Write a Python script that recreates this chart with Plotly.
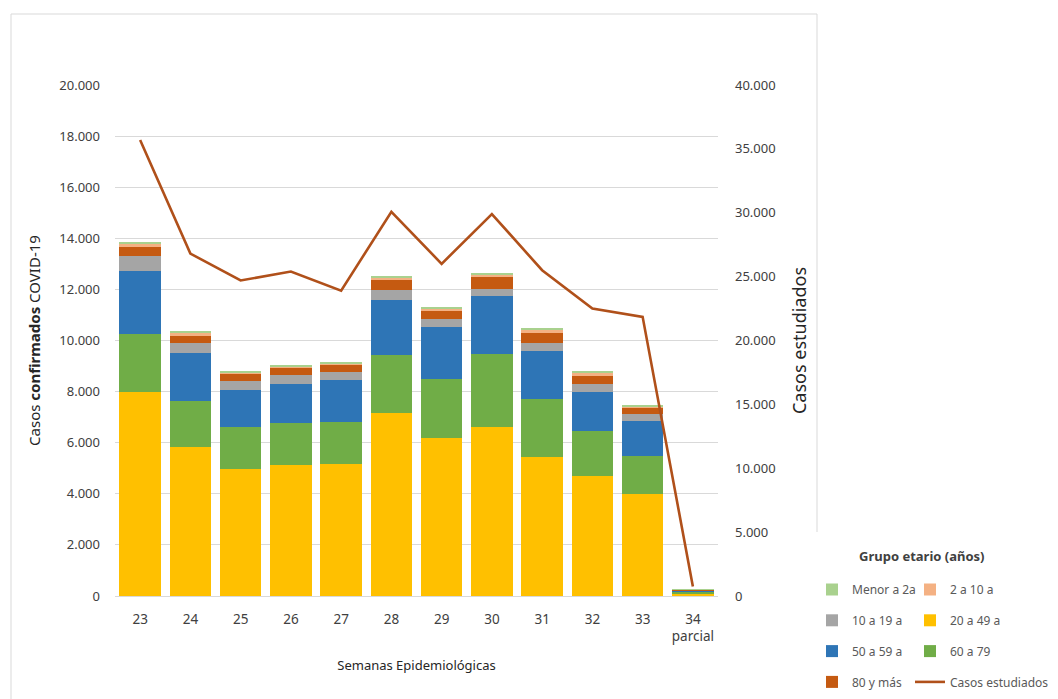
import plotly.graph_objects as go

# ---------------- data ----------------
semanas = ["23", "24", "25", "26", "27", "28", "29", "30", "31", "32", "33", "34"]
etiquetas = ["23", "24", "25", "26", "27", "28", "29", "30", "31", "32", "33", "34<br>parcial"]

g20_49 = [7980, 5820, 4990, 5120, 5150, 7180, 6200, 6600, 5460, 4710, 3980, 100]
g60_79 = [2282, 1825, 1610, 1650, 1650, 2270, 2280, 2865, 2260, 1750, 1490, 60]
g50_59 = [2445, 1875, 1457, 1540, 1640, 2137, 2058, 2293, 1875, 1523, 1367, 50]
g10_19 = [586, 390, 340, 350, 340, 390, 285, 273, 312, 313, 273, 15]
g80_mas = [352, 285, 274, 274, 274, 391, 352, 457, 391, 328, 235, 10]
g2_10 = [132, 129, 90, 62, 39, 90, 66, 90, 117, 117, 90, 5]
g_menor2 = [63, 39, 39, 55, 51, 51, 39, 51, 39, 39, 27, 5]

casos_estudiados = [35700, 26800, 24700, 25400, 23900, 30080, 26000, 29900, 25500, 22500, 21850, 750]

# ---------------- layout helpers ----------------
OFF = 8                      # page body margin of the browser
W, H = 1058 - OFF, 699 - OFF
L, R, T, B = 115, 718, 85, 596   # plot area in screen pixels


def px(x):
    return (x - L) / (R - L)


def py(y):
    return (B - y) / (B - T)


FONT = "Noto Sans"
TICK = "#404040"
LEG = "#595959"

series = [
    ("20 a 49 a", g20_49, "#FFC000", 4, "legend2"),
    ("60 a 79", g60_79, "#70AD47", 6, "legend2"),
    ("50 a 59 a", g50_59, "#2E75B6", 5, "legend"),
    ("10 a 19 a", g10_19, "#A5A5A5", 3, "legend"),
    ("80 y más", g80_mas, "#C55A11", 7, "legend"),
    ("2 a 10 a", g2_10, "#F4B183", 2, "legend2"),
    ("Menor a 2a", g_menor2, "#A9D18E", 1, "legend"),
]

fig = go.Figure()
for name, vals, color, rank, leg in series:
    fig.add_trace(go.Bar(
        x=semanas, y=vals, name=name,
        marker=dict(color=color, line=dict(width=0)),
        legendrank=rank, legendgroup=name, legend=leg,
    ))

fig.add_trace(go.Scatter(
    x=semanas, y=casos_estudiados, name="Casos estudiados",
    mode="lines", line=dict(color="#B0501A", width=2.6),
    yaxis="y2", legendrank=8, legendgroup="casos", legend="legend2",
))

leg_common = dict(
    xanchor="left", yanchor="top", orientation="v",
    traceorder="grouped", tracegroupgap=11.8,
    font=dict(family=FONT, size=12, color=LEG),
    bgcolor="rgba(0,0,0,0)", itemwidth=30,
)

fig.update_layout(
    width=W, height=H,
    margin=dict(l=L - OFF, r=W - (R - OFF), t=T - OFF, b=H - (B - OFF), autoexpand=False),
    paper_bgcolor="white", plot_bgcolor="white",
    barmode="stack", bargap=0.17,
    separators=",.",
    showlegend=True,
    legend=dict(x=px(812), y=py(575), **leg_common),
    legend2=dict(x=px(910), y=py(575), **leg_common),
    xaxis=dict(
        type="category", tickvals=semanas, ticktext=etiquetas,
        showgrid=False, showline=False, zeroline=False, ticks="",
        tickfont=dict(family=FONT, size=13.5, color=TICK),
        ticklabelstandoff=13,
        title=dict(text="Semanas Epidemiológicas", standoff=16,
                   font=dict(family=FONT, size=13, color="#262626")),
    ),
    yaxis=dict(
        range=[0, 20000], dtick=2000, tickformat=",d",
        showgrid=True, gridcolor="#D9D9D9", gridwidth=1,
        zeroline=True, zerolinecolor="#D9D9D9", zerolinewidth=1,
        showline=False, ticks="",
        tickfont=dict(family=FONT, size=13, color=TICK),
        ticklabelstandoff=14,
        title=dict(text="Casos <b>confirmados</b> COVID-19", standoff=15,
                   font=dict(family=FONT, size=15, color="#262626")),
    ),
    yaxis2=dict(
        range=[0, 40000], dtick=5000, tickformat=",d",
        overlaying="y", side="right", showgrid=False, zeroline=False,
        showline=False, ticks="",
        tickfont=dict(family=FONT, size=13, color=TICK),
        ticklabelstandoff=16,
        title=dict(text="Casos estudiados", standoff=18,
                   font=dict(family=FONT, size=18, color="#262626")),
    ),
    shapes=[dict(
        type="path", xref="paper", yref="paper",
        path=f"M {px(11)},{py(699)} L {px(11)},{py(14)} L {px(817)},{py(14)} L {px(817)},{py(532)}",
        line=dict(color="#D9D9D9", width=1),
    )],
    annotations=[dict(
        text="<b>Grupo etario (años)</b>", xref="paper", yref="paper",
        x=px(857), y=py(556), xanchor="left", yanchor="middle", showarrow=False,
        font=dict(family=FONT, size=13, color="#404040"),
    )],
)

fig.write_html("out.html")
